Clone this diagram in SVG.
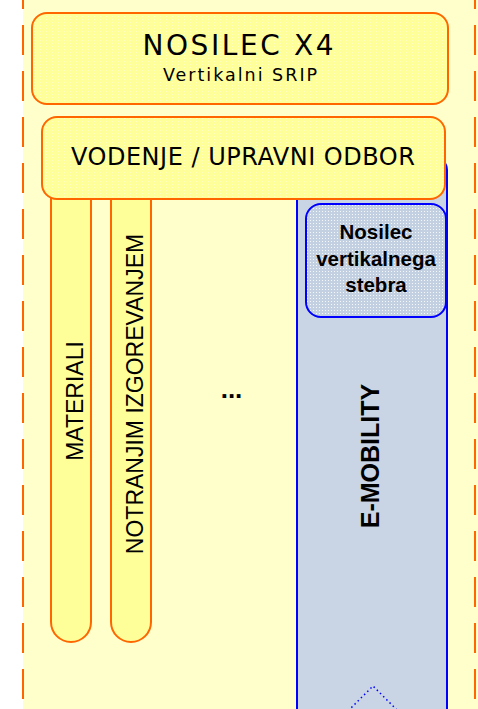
<svg xmlns="http://www.w3.org/2000/svg" width="478" height="709" viewBox="0 0 478 709">
<defs>
<pattern id="dotY" width="3" height="3" patternUnits="userSpaceOnUse">
<rect width="3" height="3" fill="#FFFF99"/>
<rect x="1" y="1" width="1" height="1" fill="#FFFFC4"/>
</pattern>
<pattern id="dotB" width="3" height="3" patternUnits="userSpaceOnUse">
<rect width="3" height="3" fill="#C3D0E2"/>
<rect x="1" y="1" width="1" height="1" fill="#F4F7FB"/>
</pattern>
</defs>
<style>
.ob{stroke:#FF6600;stroke-width:2}
.bl{stroke:#0000FF;stroke-width:2}
.dash{stroke:#FF6600;stroke-width:2;stroke-dasharray:30 16;fill:none}
.t1{font-family:"DejaVu Sans",Verdana,sans-serif;fill:#000;text-anchor:middle}
.t2{font-family:"Liberation Sans",Arial,sans-serif;fill:#000;text-anchor:middle}
.b{font-weight:bold}
</style>
<rect x="23" y="0" width="455" height="709" fill="#FFFFCC"/>
<line class="dash" x1="23" y1="-21" x2="23" y2="720"/>
<line class="dash" x1="475" y1="-21" x2="475" y2="720"/>

<g id="emobility">
<rect class="bl" x="297" y="158" width="150" height="620" rx="12" fill="#C9D5E5"/>
<text class="t2 b" font-size="25" transform="translate(379,456) rotate(-90)">E-MOBILITY</text>
</g>

<g id="nosilec-stebra">
<rect class="bl" x="306" y="204" width="140" height="113" rx="15" fill="url(#dotB)"/>
<text class="t2 b" font-size="20.5" x="376" y="239">Nosilec</text>
<text class="t2 b" font-size="20.5" x="376" y="266">vertikalnega</text>
<text class="t2 b" font-size="20.5" x="376" y="292">stebra</text>
</g>

<g id="connectors">
<polyline points="345,714 373,686 401,714" fill="none" stroke="#0000FF" stroke-width="1.5" stroke-dasharray="1.5 3"/>
</g>

<g id="materiali">
<rect class="ob" x="51" y="170" width="40" height="472" rx="20" fill="#FFFF99"/>
<text class="t2" font-size="23" transform="translate(83,401) rotate(-90)">MATERIALI</text>
</g>

<g id="notranjim">
<rect class="ob" x="111" y="170" width="40" height="472" rx="20" fill="#FFFF99"/>
<text class="t2" font-size="23" transform="translate(143,394) rotate(-90)">NOTRANJIM IZGOREVANJEM</text>
</g>

<g id="dots">
<text class="t2 b" font-size="26" x="231.5" y="398">...</text>
</g>

<g id="nosilec-x4">
<rect class="ob" x="32" y="13" width="416" height="91" rx="15" fill="url(#dotY)"/>
<text class="t1" font-size="28" letter-spacing="2.6" x="239.3" y="55">NOSILEC X4</text>
<text class="t1" font-size="17.5" letter-spacing="2" x="241" y="81">Vertikalni SRIP</text>
</g>

<g id="vodenje">
<rect class="ob" x="42" y="117" width="403" height="82" rx="15" fill="url(#dotY)"/>
<text class="t1" font-size="24" letter-spacing="0.5" x="243.2" y="165">VODENJE / UPRAVNI ODBOR</text>
</g>
</svg>
